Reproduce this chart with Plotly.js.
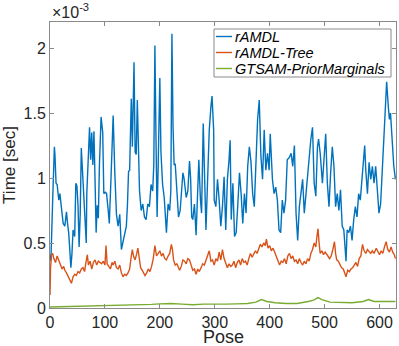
<!DOCTYPE html>
<html>
<head>
<meta charset="utf-8">
<script src="https://cdn.plot.ly/plotly-3.0.1.min.js"></script>
<style>
  html, body { margin: 0; padding: 0; background: #fff; }
  #chart { width: 399px; height: 346px; }
</style>
</head>
<body>
<div id="chart"></div>
<script>
// times are in units of 1e-3 sec (the axis carries the x10^-3 factor)
var rAmdlPose = [0,2,5,8,9,11,13,16,18,20,21,24,27,30,32,34,36,38,40,42,45,47,49,51,53,55,57,59,62,64,66,67,69,72,74,76,78,80,82,84,86,88,90,93,96,98,101,103,106,108,111,115,118,121,124,127,130,133,136,139,141,143,145,148,150,153,155,157,159,161,163,166,169,172,175,178,181,184,187,189,191,193,195,197,200,202,205,208,210,212,215,218,220,222,224,226,228,231,234,237,240,242,244,246,248,251,254,256,258,260,263,266,269,271,274,276,279,282,284,287,290,293,295,298,299,302,305,308,311,314,317,320,323,326,328,330,333,336,339,342,345,348,351,354,357,360,363,366,369,372,375,378,381,384,387,390,393,396,399,401,405,408,411,414,417,420,423,426,429,432,436,439,442,445,448,451,454,457,460,463,466,469,472,475,478,481,484,487,489,492,496,499,502,505,508,511,514,517,520,523,526,529,532,535,539,541,544,547,550,553,556,559,562,565,568,571,573,575,578,581,584,587,590,593,596,599,602,605,608,611,613,616,618,620,623,626,629];
var rAmdlTime = [0.36,0.42,0.85,1.24,1.18,0.96,0.95,0.83,0.88,0.8,0.75,0.65,0.63,0.74,0.65,0.58,0.45,0.31,0.42,0.6,0.55,0.96,0.94,0.79,0.47,0.72,1.23,1.04,0.86,0.58,0.5,0.88,1.14,1.39,1.14,1.35,1.1,1.36,0.99,0.58,0.79,0.69,1.1,1.47,1.35,0.88,0.89,0.88,0.75,0.65,0.99,1.48,1.04,0.72,0.63,0.72,0.45,0.52,0.58,0.63,0.79,1.05,1.06,1.61,1.24,1.89,1.2,1.18,1.6,1.1,0.9,0.75,0.8,0.7,0.68,0.8,0.78,0.95,0.9,1.1,2.02,1.3,0.7,1.1,1.77,1.2,0.95,0.85,0.65,0.58,0.8,0.75,0.9,2.11,1.4,1.1,1.11,0.85,0.7,0.75,0.95,1.04,1.0,0.9,0.85,0.9,1.13,1.0,0.7,0.68,0.8,0.56,0.94,1.14,0.83,0.73,1.42,0.88,0.6,0.99,1.37,1.55,1.63,1.37,0.83,0.78,0.99,0.83,0.63,0.78,1.01,0.6,0.99,1.14,1.29,0.68,0.96,0.55,0.58,0.8,1.04,0.88,0.65,0.88,0.73,1.09,1.24,1.12,0.88,0.78,1.09,1.45,1.6,1.17,0.99,1.37,1.06,1.19,1.06,1.34,0.99,0.88,0.93,0.83,0.6,0.58,0.83,0.73,0.83,1.14,1.16,1.19,1.09,1.25,0.73,0.52,0.78,0.88,0.99,0.73,0.88,0.99,1.14,1.3,1.39,0.96,0.86,1.24,1.3,1.19,0.96,1.14,1.34,0.96,0.78,1.04,1.24,1.09,0.78,0.88,0.75,0.91,0.63,0.6,0.36,0.6,0.58,0.63,0.52,0.68,0.78,0.7,0.88,0.83,0.99,1.19,1.25,1.06,0.88,1.12,0.99,1.09,0.96,1.09,0.93,0.73,0.8,1.06,1.34,1.52,1.74,1.55,1.45,1.5,1.24,1.09,0.99];

var treePose = [0,1,3,5,7,10,13,16,19,22,25,27,30,33,36,39,42,45,48,51,54,57,60,63,65,68,70,73,76,79,82,85,88,91,94,97,100,102,104,107,110,113,115,118,121,124,127,130,133,136,139,142,145,148,150,152,155,158,160,162,165,168,171,173,176,179,182,185,188,191,194,197,200,203,206,209,212,215,218,221,223,225,228,231,234,236,239,242,245,248,251,254,257,260,263,266,269,272,275,278,281,284,287,290,293,296,299,302,305,308,311,314,317,320,323,326,329,332,335,338,341,344,347,350,353,356,359,362,365,368,371,374,377,380,383,386,389,392,394,397,400,403,406,409,412,415,418,421,424,427,430,433,436,439,442,445,448,451,454,457,460,463,466,469,472,475,478,481,484,486,488,490,492,495,498,501,503,506,509,512,515,518,520,522,525,528,531,534,537,539,542,545,548,551,554,557,560,563,566,569,572,575,578,581,584,587,590,594,597,600,603,606,609,612,615,618,621,624,627,629];
var treeTime = [0.1,0.31,0.41,0.42,0.38,0.35,0.4,0.37,0.33,0.3,0.32,0.29,0.27,0.24,0.22,0.19,0.24,0.26,0.25,0.28,0.27,0.3,0.31,0.28,0.34,0.41,0.33,0.36,0.3,0.35,0.37,0.33,0.36,0.35,0.34,0.36,0.33,0.48,0.34,0.32,0.3,0.35,0.33,0.36,0.31,0.3,0.33,0.27,0.24,0.26,0.25,0.27,0.3,0.4,0.45,0.4,0.37,0.42,0.46,0.4,0.31,0.29,0.27,0.25,0.27,0.3,0.28,0.32,0.38,0.48,0.4,0.42,0.44,0.4,0.42,0.38,0.37,0.4,0.42,0.49,0.45,0.37,0.33,0.34,0.3,0.29,0.32,0.37,0.36,0.34,0.38,0.37,0.33,0.29,0.3,0.26,0.3,0.28,0.31,0.34,0.33,0.37,0.4,0.44,0.36,0.37,0.33,0.38,0.36,0.43,0.37,0.45,0.38,0.35,0.31,0.34,0.32,0.33,0.36,0.31,0.35,0.37,0.33,0.38,0.35,0.36,0.33,0.38,0.42,0.39,0.41,0.44,0.42,0.46,0.49,0.47,0.5,0.48,0.53,0.46,0.48,0.44,0.46,0.43,0.4,0.36,0.33,0.36,0.35,0.38,0.34,0.4,0.42,0.38,0.4,0.36,0.37,0.34,0.38,0.35,0.33,0.36,0.34,0.38,0.36,0.42,0.45,0.5,0.47,0.55,0.61,0.5,0.42,0.44,0.41,0.43,0.42,0.4,0.38,0.4,0.45,0.51,0.42,0.37,0.36,0.33,0.31,0.3,0.27,0.24,0.29,0.28,0.3,0.31,0.33,0.35,0.32,0.38,0.4,0.49,0.44,0.42,0.45,0.43,0.42,0.44,0.42,0.46,0.43,0.41,0.44,0.42,0.47,0.51,0.45,0.43,0.47,0.43,0.41,0.38];

var gtsamPose = [0,20,50,80,100,130,160,185,200,220,240,260,280,300,320,340,360,375,385,395,410,430,450,470,480,488,495,510,530,550,570,580,590,610,629];
var gtsamTime = [0.008,0.01,0.012,0.012,0.015,0.018,0.02,0.028,0.032,0.035,0.03,0.025,0.03,0.028,0.03,0.032,0.035,0.045,0.065,0.05,0.04,0.035,0.035,0.05,0.06,0.08,0.065,0.045,0.04,0.04,0.05,0.065,0.05,0.05,0.05];

var seriesNames = ['rAMDL', 'rAMDL-Tree', 'GTSAM-PriorMarginals'];
var seriesColors = ['#0072BD', '#D95319', '#77AC30'];

var xTicks = [0, 100, 200, 300, 400, 500, 600];
var yTicks = [0, 0.5, 1, 1.5, 2];
var yTickText = ['0', '0.5', '1', '1.5', '2'];

var FONT = 'Liberation Sans, Arial, Helvetica, sans-serif';
var AXIS_GREY = '#8a8a8a';

var traces = [
    {x: rAmdlPose, y: rAmdlTime, type: 'scatter', mode: 'lines', name: seriesNames[0],
     line: {color: seriesColors[0], width: 1.4}},
    {x: treePose, y: treeTime, type: 'scatter', mode: 'lines', name: seriesNames[1],
     line: {color: seriesColors[1], width: 1.4}},
    {x: gtsamPose, y: gtsamTime, type: 'scatter', mode: 'lines', name: seriesNames[2],
     line: {color: seriesColors[2], width: 1.4}}
];

// MATLAB-like legend box drawn by hand (plotly's own entries are too tall)
// plot area in pixels: left 50, width 346, top 22, height 286
function px(x) { return (x - 50) / 346; }
function py(y) { return (308 - y) / 286; }

var shapes = [{
    type: 'rect', xref: 'paper', yref: 'paper',
    x0: px(214), x1: px(391), y0: py(77), y1: py(29),
    line: {color: AXIS_GREY, width: 1}, fillcolor: '#fff', layer: 'above'
}];
var annotations = [{
    xref: 'paper', yref: 'paper', x: 0, y: 1, xanchor: 'left', yanchor: 'bottom', yshift: -1,
    text: '\u00d710<sup>-3</sup>', showarrow: false,
    font: {size: 16, color: '#262626'}
}, {
    // x axis title placed by hand so it clears the tick labels
    xref: 'paper', yref: 'paper', x: 0.5, y: py(337), xanchor: 'center', yanchor: 'middle',
    text: 'Pose', showarrow: false, borderpad: 0,
    font: {size: 18, color: '#262626'}
}];
var rowY = [36.5, 52.5, 68.5];
for (var i = 0; i < seriesNames.length; i++) {
    shapes.push({
        type: 'line', xref: 'paper', yref: 'paper',
        x0: px(216), x1: px(232), y0: py(rowY[i]), y1: py(rowY[i]),
        line: {color: seriesColors[i], width: 1.4}, layer: 'above'
    });
    annotations.push({
        xref: 'paper', yref: 'paper', x: px(232.5), y: py(rowY[i]),
        xanchor: 'left', yanchor: 'middle', showarrow: false,
        text: '<i>' + seriesNames[i] + '</i>',
        font: {family: FONT, size: 14.5, color: '#000'}
    });
}

var layout = {
    width: 399,
    height: 346,
    margin: {l: 50, r: 3, t: 22, b: 38},
    paper_bgcolor: '#fff',
    plot_bgcolor: '#fff',
    font: {family: FONT, size: 16, color: '#262626'},
    showlegend: false,
    xaxis: {
        range: [0, 630],
        tickvals: xTicks,
        ticks: 'inside', ticklen: 4, tickcolor: AXIS_GREY,
        showline: true, linecolor: AXIS_GREY, linewidth: 1, mirror: 'ticks',
        showgrid: false, zeroline: false,
        tickfont: {size: 16, color: '#262626'}
    },
    yaxis: {
        range: [0, 2.2],
        tickvals: yTicks,
        ticktext: yTickText,
        ticks: 'inside', ticklen: 4, tickcolor: AXIS_GREY,
        showline: true, linecolor: AXIS_GREY, linewidth: 1, mirror: 'ticks',
        showgrid: false, zeroline: false,
        tickfont: {size: 16, color: '#262626'},
        title: {text: 'Time [sec]', font: {size: 17, color: '#262626'}, standoff: 4}
    },
    shapes: shapes,
    annotations: annotations
};

Plotly.newPlot('chart', traces, layout, {displayModeBar: false, staticPlot: true});
</script>
</body>
</html>
